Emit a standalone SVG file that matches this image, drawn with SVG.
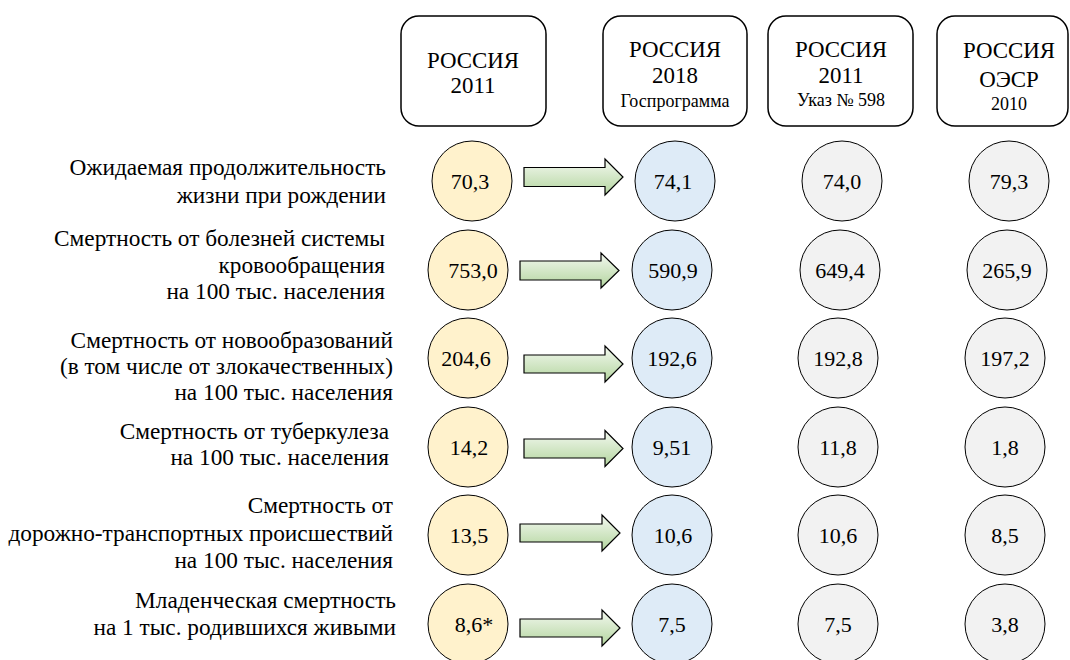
<svg xmlns="http://www.w3.org/2000/svg" width="1070" height="660" viewBox="0 0 1070 660">
<defs>
<linearGradient id="ag" x1="0" y1="0" x2="0" y2="1">
<stop offset="0" stop-color="#f4f9f1"/>
<stop offset="1" stop-color="#b3d59e"/>
</linearGradient>
<style>
text{font-family:"Liberation Serif","Times New Roman",serif;fill:#000}
.hdr{fill:#fff;stroke:#000;stroke-width:1.5}
.h{font-size:22.9px;text-anchor:middle}
.hs{font-size:18px;text-anchor:middle}
.lbl{font-size:23.3px;text-anchor:end}
.v{font-size:22px;text-anchor:middle}
.c1{fill:#fff2cc;stroke:#000;stroke-width:1}
.c2{fill:#deebf7;stroke:#000;stroke-width:1}
.c3{fill:#f2f2f2;stroke:#000;stroke-width:1}
.ar{fill:url(#ag);stroke:#000;stroke-width:1.2}
</style>
</defs>
<rect width="1070" height="660" fill="#fff"/>

<g id="header1"><rect class="hdr" x="401" y="16" width="145" height="110" rx="18"/>
<text class="h" x="473" y="68">РОССИЯ</text><text class="h" x="473" y="93">2011</text></g>
<g id="header2"><rect class="hdr" x="603" y="16" width="144" height="110" rx="18"/>
<text class="h" x="675" y="57">РОССИЯ</text><text class="h" x="675" y="83">2018</text><text class="hs" x="675" y="107">Госпрограмма</text></g>
<g id="header3"><rect class="hdr" x="768" y="16" width="145" height="110" rx="18"/>
<text class="h" x="841" y="57">РОССИЯ</text><text class="h" x="841" y="83">2011</text><text class="hs" x="841" y="106">Указ № 598</text></g>
<g id="header4"><rect class="hdr" x="937" y="16" width="131" height="110" rx="18"/>
<text class="h" x="1009" y="58">РОССИЯ</text><text class="h" x="1009" y="87">ОЭСР</text><text class="hs" x="1009" y="110">2010</text></g>

<g id="labels">
<text class="lbl" x="386" y="175">Ожидаемая продолжительность</text>
<text class="lbl" x="386" y="203">жизни при рождении</text>
<text class="lbl" x="385" y="246">Смертность от болезней системы</text>
<text class="lbl" x="385" y="273">кровообращения</text>
<text class="lbl" x="385" y="299">на 100 тыс. населения</text>
<text class="lbl" x="393" y="348">Смертность от новообразований</text>
<text class="lbl" x="393" y="374">(в том числе от злокачественных)</text>
<text class="lbl" x="393" y="400">на 100 тыс. населения</text>
<text class="lbl" x="389" y="439">Смертность от туберкулеза</text>
<text class="lbl" x="389" y="465">на 100 тыс. населения</text>
<text class="lbl" x="393" y="513">Смертность от</text>
<text class="lbl" x="393" y="541">дорожно-транспортных происшествий</text>
<text class="lbl" x="393" y="568">на 100 тыс. населения</text>
<text class="lbl" x="396" y="608">Младенческая смертность</text>
<text class="lbl" x="396" y="635">на 1 тыс. родившихся живыми</text>
</g>

<g id="connectors">
<path class="ar" d="M524,167.5 H605 V159 L623,177 L605,195 V186.5 H524 Z"/>
<path class="ar" d="M520,261 H601 V253 L619,270.5 L601,288 V280 H520 Z"/>
<path class="ar" d="M524,355 H605 V346 L623,364 L605,382 V373 H524 Z"/>
<path class="ar" d="M524,439 H605 V430.5 L623,448.5 L605,466.5 V458 H524 Z"/>
<path class="ar" d="M520,524 H602 V515 L620,533 L602,551 V542 H520 Z"/>
<path class="ar" d="M520,619 H602 V610 L620,628 L602,646 V637 H520 Z"/>
</g>

<g id="row1">
<circle class="c1" cx="472" cy="181" r="40"/><text class="v" x="470" y="189">70,3</text>
<circle class="c2" cx="675" cy="181" r="40"/><text class="v" x="673" y="189">74,1</text>
<circle class="c3" cx="842" cy="181" r="40"/><text class="v" x="842" y="189">74,0</text>
<circle class="c3" cx="1009" cy="181" r="40"/><text class="v" x="1009" y="189">79,3</text>
</g>
<g id="row2">
<circle class="c1" cx="468" cy="270" r="40"/><text class="v" x="473" y="278">753,0</text>
<circle class="c2" cx="672" cy="270" r="40"/><text class="v" x="673" y="278">590,9</text>
<circle class="c3" cx="840" cy="270" r="40"/><text class="v" x="840" y="278">649,4</text>
<circle class="c3" cx="1007" cy="270" r="40"/><text class="v" x="1007" y="278">265,9</text>
</g>
<g id="row3">
<circle class="c1" cx="468" cy="358" r="40"/><text class="v" x="466" y="366">204,6</text>
<circle class="c2" cx="672" cy="358" r="40"/><text class="v" x="672" y="366">192,6</text>
<circle class="c3" cx="838" cy="358" r="40"/><text class="v" x="838" y="366">192,8</text>
<circle class="c3" cx="1005" cy="358" r="40"/><text class="v" x="1005" y="366">197,2</text>
</g>
<g id="row4">
<circle class="c1" cx="468" cy="447" r="40"/><text class="v" x="469" y="455">14,2</text>
<circle class="c2" cx="672" cy="447" r="40"/><text class="v" x="672" y="455">9,51</text>
<circle class="c3" cx="838" cy="447" r="40"/><text class="v" x="838" y="455">11,8</text>
<circle class="c3" cx="1005" cy="447" r="40"/><text class="v" x="1005" y="455">1,8</text>
</g>
<g id="row5">
<circle class="c1" cx="468" cy="535" r="40"/><text class="v" x="469" y="543">13,5</text>
<circle class="c2" cx="672" cy="535" r="40"/><text class="v" x="673" y="543">10,6</text>
<circle class="c3" cx="838" cy="535" r="40"/><text class="v" x="838" y="543">10,6</text>
<circle class="c3" cx="1005" cy="535" r="40"/><text class="v" x="1005" y="543">8,5</text>
</g>
<g id="row6">
<circle class="c1" cx="468" cy="624" r="40"/><text class="v" x="474" y="632">8,6*</text>
<circle class="c2" cx="672" cy="624" r="40"/><text class="v" x="672" y="632">7,5</text>
<circle class="c3" cx="838" cy="624" r="40"/><text class="v" x="838" y="632">7,5</text>
<circle class="c3" cx="1005" cy="624" r="40"/><text class="v" x="1005" y="632">3,8</text>
</g>
</svg>
